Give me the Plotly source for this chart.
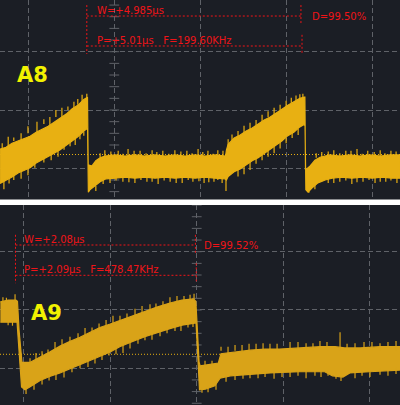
import plotly.graph_objects as go

# ---------------- data (time in µs, level in divisions) ----------------
# Channel A8 (2 µs/div) — peak-detect envelope
a8_up_t = [-2.66,-2.52,-2.38,-2.24,-2.10,-1.96,-1.82,-1.68,-1.54,-1.40,-1.26,-1.12,-0.98,-0.85,-0.71,-0.65,-0.624,
           -0.608,-0.52,-0.43,-0.33,-0.22,0.02,0.25,0.48,0.71,0.95,1.18,1.41,1.65,1.88,2.11,2.34,2.59,
           2.61,2.65,2.79,2.93,3.07,3.21,3.35,3.49,3.63,3.77,3.90,4.04,4.18,4.32,4.42,4.437,
           4.451,4.56,4.67,4.79,5.02,5.25,5.49,5.72,5.95,6.19,6.42,6.66]
a8_up_v = [-0.67,-0.64,-0.57,-0.53,-0.48,-0.45,-0.38,-0.33,-0.28,-0.21,-0.14,-0.07,0.02,0.08,0.18,0.21,0.22,
           -0.94,-0.96,-0.87,-0.82,-0.79,-0.77,-0.79,-0.77,-0.79,-0.77,-0.79,-0.77,-0.79,-0.77,-0.79,-0.77,-0.79,
           -0.69,-0.59,-0.48,-0.43,-0.36,-0.31,-0.24,-0.17,-0.12,-0.05,0.02,0.08,0.14,0.20,0.22,0.22,
           -1.03,-0.96,-0.86,-0.81,-0.77,-0.79,-0.77,-0.79,-0.77,-0.79,-0.77,-0.77]
a8_lo_t = [-2.66,-2.52,-2.38,-2.24,-2.10,-1.96,-1.82,-1.68,-1.54,-1.40,-1.26,-1.12,-0.98,-0.85,-0.71,-0.64,-0.622,
           -0.604,-0.57,-0.47,-0.33,-0.19,0.02,0.25,0.48,0.71,0.95,1.18,1.41,1.65,1.88,2.11,2.34,2.58,
           2.61,2.65,2.79,2.93,3.07,3.21,3.35,3.49,3.63,3.77,3.90,4.04,4.18,4.32,4.42,4.44,
           4.46,4.51,4.60,4.74,4.91,5.07,5.30,5.53,5.77,6.00,6.23,6.46,6.66]
a8_lo_v = [-1.26,-1.20,-1.15,-1.08,-1.04,-0.99,-0.91,-0.86,-0.80,-0.74,-0.68,-0.62,-0.53,-0.46,-0.36,-0.32,-0.33,
           -1.41,-1.37,-1.32,-1.23,-1.18,-1.17,-1.15,-1.17,-1.15,-1.17,-1.15,-1.17,-1.15,-1.17,-1.15,-1.17,-1.18,
           -1.20,-1.14,-1.06,-1.01,-0.94,-0.87,-0.82,-0.74,-0.67,-0.60,-0.53,-0.44,-0.38,-0.29,-0.25,-0.27,
           -1.37,-1.41,-1.34,-1.25,-1.20,-1.17,-1.15,-1.17,-1.15,-1.17,-1.15,-1.17,-1.17]
# noise spikes: time, start level, tip level
a8_spk_t = [-2.47,-2.17,-1.80,-1.50,-1.22,-0.94,-0.75,-0.64,
            -2.57,-2.34,-2.01,-1.64,-1.31,-1.03,-0.80,
            -0.22,0.09,0.32,0.60,0.88,1.13,1.41,1.69,1.95,2.18,2.41,
            -0.43,-0.10,0.20,0.48,0.76,1.02,1.30,1.58,1.83,2.09,2.32,2.51,
            2.65,2.60,
            2.88,3.16,3.44,3.72,4.00,4.23,4.39,
            3.02,3.30,3.58,3.86,4.14,
            4.83,5.11,5.39,5.65,5.90,6.19,6.44,
            4.53,4.98,5.25,5.53,5.79,6.07,6.32,6.58,
            -2.61,-2.34,-2.01,-1.64,-1.36,-1.08,-0.85,
            -2.45,-2.17,-1.85,-1.47,-1.17,-0.91,-0.71,
            -0.33,-0.08,0.20,0.46,0.74,0.99,1.27,1.55,1.81,2.06,2.30,2.53,
            -0.26,0.04,0.34,0.62,0.88,1.16,1.44,1.72,1.97,2.20,2.41,
            2.74,3.02,3.30,3.58,3.86,4.12,4.32,
            2.88,3.16,3.44,3.72,4.00,4.28,
            4.70,4.98,5.25,5.51,5.77,6.05,6.30,6.56,
            4.67,4.83,5.11,5.39,5.65,5.93,6.19,6.44]
a8_spk_from = [-0.64,-0.53,-0.40,-0.28,-0.14,0.00,0.12,0.20,
               -1.18,-1.08,-0.96,-0.79,-0.65,-0.51,-0.39,
               -0.82,-0.82,-0.82,-0.82,-0.82,-0.82,-0.82,-0.82,-0.82,-0.82,-0.82,
               -1.30,-1.13,-1.13,-1.13,-1.13,-1.13,-1.13,-1.13,-1.13,-1.13,-1.13,-1.13,
               -0.65,-1.17,
               -0.48,-0.34,-0.21,-0.09,0.05,0.16,0.20,
               -0.94,-0.80,-0.67,-0.53,-0.39,
               -0.82,-0.82,-0.82,-0.82,-0.82,-0.82,-0.82,
               -1.34,-1.13,-1.13,-1.13,-1.13,-1.13,-1.13,-1.13,
               -0.65,-0.53,-0.40,-0.24,-0.12,0.00,0.09,
               -1.16,-1.04,-0.89,-0.72,-0.58,-0.46,-0.37,
               -0.82,-0.82,-0.82,-0.82,-0.82,-0.82,-0.82,-0.82,-0.82,-0.82,-0.82,-0.82,
               -1.13,-1.13,-1.13,-1.13,-1.13,-1.13,-1.13,-1.13,-1.13,-1.13,-1.13,
               -0.52,-0.40,-0.26,-0.12,0.00,0.12,0.20,
               -1.03,-0.89,-0.75,-0.62,-0.48,-0.32,
               -0.82,-0.82,-0.82,-0.82,-0.82,-0.82,-0.82,-0.82,
               -1.27,-1.13,-1.13,-1.13,-1.13,-1.13,-1.13,-1.13]
a8_spk_to = [-0.46,-0.40,-0.20,-0.12,0.04,0.14,0.26,0.28,
             -1.36,-1.20,-1.12,-0.90,-0.80,-0.62,-0.50,
             -0.69,-0.70,-0.67,-0.70,-0.69,-0.70,-0.69,-0.70,-0.67,-0.70,-0.69,
             -1.39,-1.25,-1.23,-1.25,-1.23,-1.27,-1.23,-1.25,-1.23,-1.25,-1.23,-1.25,
             -0.50,-1.39,
             -0.36,-0.22,-0.08,0.04,0.16,0.25,0.28,
             -1.10,-0.92,-0.80,-0.66,-0.48,
             -0.72,-0.69,-0.70,-0.67,-0.70,-0.69,-0.70,
             -1.42,-1.25,-1.23,-1.27,-1.23,-1.25,-1.23,-1.25,
             -0.57,-0.47,-0.28,-0.16,0.00,0.06,0.19,
             -1.26,-1.18,-0.99,-0.86,-0.68,-0.60,-0.44,
             -0.74,-0.71,-0.75,-0.70,-0.74,-0.72,-0.75,-0.71,-0.74,-0.72,-0.75,-0.70,
             -1.27,-1.21,-1.24,-1.20,-1.23,-1.21,-1.25,-1.20,-1.22,-1.24,-1.20,
             -0.42,-0.27,-0.17,-0.02,0.09,0.21,0.27,
             -1.14,-1.03,-0.86,-0.74,-0.57,-0.43,
             -0.74,-0.71,-0.74,-0.70,-0.75,-0.72,-0.74,-0.71,
             -1.36,-1.22,-1.25,-1.21,-1.24,-1.20,-1.23,-1.21]

# Channel A9 (1 µs/div)
a9_up_t = [-2.27,-2.18,-2.09,-2.072,-2.054,-2.031,-2.02,-1.93,-1.81,-1.70,-1.58,-1.47,-1.35,-1.23,-1.12,-1.00,
           -0.89,-0.74,-0.60,-0.46,-0.31,-0.17,-0.04,-0.01,0.003,0.027,0.04,0.15,0.25,0.28,0.44,0.62,0.79,
           0.96,1.19,1.43,1.60,1.71,1.89,2.12,2.36]
a9_up_v = [0.14,0.17,0.17,0.15,-0.34,-0.82,-0.90,-0.90,-0.81,-0.72,-0.62,-0.54,-0.47,-0.38,-0.30,-0.24,
           -0.18,-0.09,-0.02,0.05,0.12,0.17,0.19,0.15,-0.21,-0.89,-0.96,-0.94,-0.91,-0.75,-0.72,-0.69,-0.67,
           -0.67,-0.65,-0.63,-0.63,-0.65,-0.65,-0.63,-0.63]
a9_lo_t = [-2.27,-2.09,-2.077,-2.048,-2.025,-1.985,-1.93,-1.81,-1.70,-1.58,-1.47,-1.35,-1.23,-1.12,-1.00,
           -0.89,-0.74,-0.60,-0.46,-0.31,-0.17,-0.04,-0.008,0.015,0.032,0.10,0.21,0.27,0.39,0.62,0.85,
           1.19,1.48,1.57,1.69,1.77,2.00,2.36]
a9_lo_v = [-0.21,-0.21,-0.21,-0.86,-1.32,-1.37,-1.32,-1.21,-1.14,-1.08,-1.01,-0.94,-0.87,-0.80,-0.72,
           -0.63,-0.54,-0.46,-0.39,-0.32,-0.26,-0.23,-0.22,-0.86,-1.37,-1.36,-1.30,-1.17,-1.13,-1.10,-1.08,
           -1.06,-1.06,-1.13,-1.15,-1.08,-1.06,-1.03]
a9_spk_t = [-2.24,-2.10,-2.18,
            -1.858,-1.719,-1.557,-1.372,-1.210,-1.048,-0.887,-0.713,-0.540,-0.390,-0.228,-0.077,-0.031,
            -1.973,-1.788,-1.627,-1.442,-1.257,-1.095,-0.933,-0.771,-0.598,-0.424,-0.251,-0.101,
            0.096,0.362,0.524,0.686,0.847,1.079,1.264,1.425,1.657,1.830,2.026,2.211,
            0.131,0.443,0.616,0.790,0.986,1.171,1.367,1.518,1.668,1.911,2.119,2.304,
            -2.20,-2.13,
            -1.927,-1.788,-1.638,-1.465,-1.291,-1.129,-0.968,-0.806,-0.632,-0.471,-0.309,-0.147,
            -1.881,-1.707,-1.534,-1.349,-1.176,-1.014,-0.852,-0.679,-0.517,-0.343,-0.182,-0.043,
            0.177,0.281,0.443,0.605,0.767,0.929,1.171,1.344,1.506,1.738,1.934,2.119,2.304,
            0.061,0.223,0.339,0.535,0.709,0.894,1.079,1.264,1.437,1.610,1.830,2.003,2.211]
a9_spk_from = [0.12,0.14,-0.17,
               -0.88,-0.78,-0.66,-0.54,-0.43,-0.33,-0.23,-0.14,-0.06,0.03,0.10,0.15,0.17,
               -1.32,-1.16,-1.06,-0.96,-0.84,-0.75,-0.63,-0.51,-0.42,-0.34,-0.25,-0.20,
               -0.99,-0.77,-0.75,-0.72,-0.70,-0.69,-0.69,-0.67,-0.69,-0.69,-0.69,-0.67,
               -1.30,-1.10,-1.06,-1.05,-1.03,-1.03,-1.03,-1.03,-1.06,-1.03,-1.01,-0.99,
               0.12,-0.17,
               -0.93,-0.79,-0.71,-0.57,-0.45,-0.35,-0.26,-0.18,-0.09,0.00,0.08,0.13,
               -1.23,-1.11,-1.02,-0.90,-0.78,-0.68,-0.58,-0.48,-0.39,-0.30,-0.24,-0.20,
               -0.98,-0.70,-0.70,-0.70,-0.70,-0.70,-0.70,-0.70,-0.70,-0.70,-0.70,-0.70,-0.70,
               -1.32,-1.27,-1.03,-1.03,-1.03,-1.03,-1.03,-1.03,-1.03,-1.03,-1.03,-1.03,-1.03]
a9_spk_to = [0.22,0.27,-0.26,
             -0.74,-0.68,-0.50,-0.40,-0.30,-0.17,-0.10,0.02,0.10,0.15,0.24,0.26,0.28,
             -1.44,-1.28,-1.20,-1.07,-0.98,-0.86,-0.76,-0.66,-0.52,-0.45,-0.36,-0.30,
             -0.87,-0.63,-0.60,-0.58,-0.58,-0.55,-0.57,-0.53,-0.38,-0.57,-0.55,-0.55,
             -1.41,-1.20,-1.17,-1.15,-1.15,-1.13,-1.13,-1.13,-1.22,-1.13,-1.11,-1.10,
             0.21,-0.27,
             -0.83,-0.71,-0.55,-0.46,-0.31,-0.23,-0.10,-0.06,0.07,0.11,0.22,0.24,
             -1.37,-1.21,-1.16,-1.00,-0.92,-0.78,-0.74,-0.58,-0.51,-0.40,-0.36,-0.29,
             -0.87,-0.63,-0.60,-0.58,-0.57,-0.58,-0.55,-0.57,-0.55,-0.58,-0.55,-0.57,-0.53,
             -1.42,-1.37,-1.23,-1.18,-1.17,-1.18,-1.15,-1.17,-1.15,-1.18,-1.17,-1.15,-1.13]

# measurements
a8_meas = dict(cursor=-0.64, W=4.985, P=5.01, F="199.60KHz", D="99.50%")
a9_meas = dict(cursor=-2.095, W=2.08, P=2.09, F="478.47KHz", D="99.52%")
a8_trigger = -0.763
a9_trigger = -0.76

for a, b in [(a8_up_t, a8_up_v), (a8_lo_t, a8_lo_v), (a8_spk_t, a8_spk_from), (a8_spk_t, a8_spk_to),
             (a9_up_t, a9_up_v), (a9_lo_t, a9_lo_v), (a9_spk_t, a9_spk_from), (a9_spk_t, a9_spk_to)]:
    assert len(a) == len(b), (len(a), len(b))

# ---------------- styling ----------------
BG = "#1b1e25"
GRID = "#5f6268"
RED = "#f01418"
YEL = "#f2f200"
C8 = "#e8b012"
C9 = "#d9a318"
TXT_FONT = "DejaVu Sans"

a8_xr = [-2.661, 6.651]
a8_yr = [-1.535, 1.887]
a9_xr = [-2.274, 2.350]
a9_yr = [-1.630, 1.801]

fig = go.Figure()


def add_channel(xa, ya, xr, yr, up_t, up_v, lo_t, lo_v, sp_t, sp_f, sp_to, color, trig):
    # trigger level (under the trace)
    fig.add_trace(go.Scatter(x=xr, y=[trig, trig], mode="lines", xaxis=xa, yaxis=ya,
                             line=dict(color="#e8b010", width=1, dash="1px,2px"), hoverinfo="skip"))
    # centre-axis sub-division ticks
    k0 = int(yr[0] / 0.2) - 1
    k1 = int(yr[1] / 0.2) + 1
    ticks = [k * 0.2 for k in range(k0, k1 + 1)]
    fig.add_trace(go.Scatter(x=[0] * len(ticks), y=ticks, mode="markers", xaxis=xa, yaxis=ya,
                             marker=dict(symbol="line-ew", size=7, line=dict(color=GRID, width=1)),
                             hoverinfo="skip"))
    # waveform band
    fig.add_trace(go.Scatter(x=up_t + lo_t[::-1], y=up_v + lo_v[::-1], mode="lines", fill="toself",
                             fillcolor=color, line=dict(color=color, width=1.2), xaxis=xa, yaxis=ya,
                             hoverinfo="skip"))
    sx, sy = [], []
    for t, f, e in zip(sp_t, sp_f, sp_to):
        sx += [t, t, None]
        sy += [f, e, None]
    fig.add_trace(go.Scatter(x=sx, y=sy, mode="lines", line=dict(color=color, width=1.2),
                             xaxis=xa, yaxis=ya, hoverinfo="skip"))


add_channel("x", "y", a8_xr, a8_yr, a8_up_t, a8_up_v, a8_lo_t, a8_lo_v,
            a8_spk_t, a8_spk_from, a8_spk_to, C8, a8_trigger)
add_channel("x2", "y2", a9_xr, a9_yr, a9_up_t, a9_up_v, a9_lo_t, a9_lo_v,
            a9_spk_t, a9_spk_from, a9_spk_to, C9, a9_trigger)


def add_cursors(xr_, yr_, m, y_w, y_p, y_top, y_mid1, y_mid2, y_bot, txt_dx, d_dx):
    t0 = m["cursor"]
    tw = t0 + m["W"]
    tp = t0 + m["P"]
    dot = dict(color=RED, width=1, dash="2px,2px")
    shapes = [
        dict(type="line", x0=t0, x1=t0, y0=y_top, y1=y_bot),
        dict(type="line", x0=tw, x1=tw, y0=y_top, y1=y_mid1),
        dict(type="line", x0=tp, x1=tp, y0=y_mid2, y1=y_bot),
        dict(type="line", x0=t0, x1=tw, y0=y_w, y1=y_w),
        dict(type="line", x0=t0, x1=tp, y0=y_p, y1=y_p),
    ]
    for s in shapes:
        s.update(xref=xr_, yref=yr_, line=dot, layer="above")
        fig.add_shape(**s)
    f = dict(family=TXT_FONT, size=10, color=RED)
    nb = "\u00a0\u00a0\u00a0"
    fig.add_annotation(x=t0 + txt_dx, y=(y_top + y_w) / 2, xref=xr_, yref=yr_, showarrow=False,
                       xanchor="left", yanchor="middle", text=f"W=+{m['W']:g}µs", font=f)
    fig.add_annotation(x=t0 + txt_dx, y=(y_mid2 + y_p) / 2, xref=xr_, yref=yr_, showarrow=False,
                       xanchor="left", yanchor="middle",
                       text=f"P=+{m['P']:g}µs{nb}F={m['F']}", font=f)
    fig.add_annotation(x=tp + d_dx, y=y_w, xref=xr_, yref=yr_, showarrow=False,
                       xanchor="left", yanchor="middle", text=f"D={m['D']}", font=f)


add_cursors("x", "y", a8_meas, 1.612, 1.098, 1.80, 1.46, 1.29, 0.96, 0.2, 0.18)
add_cursors("x2", "y2", a9_meas, 1.115, 0.595, 1.29, 0.97, 0.80, 0.46, 0.08, 0.07)

fig.add_annotation(x=-1.904, y=0.60, xref="x", yref="y", text="<b>A8</b>", showarrow=False,
                   font=dict(family="DejaVu Sans", size=21, color=YEL))
fig.add_annotation(x=-1.736, y=-0.046, xref="x2", yref="y2", text="<b>A9</b>", showarrow=False,
                   font=dict(family="DejaVu Sans", size=21, color=YEL))

ax_common = dict(showgrid=True, gridcolor=GRID, gridwidth=1, griddash="5px,3px", zeroline=False,
                 showline=False, ticks="", showticklabels=False, fixedrange=True)

fig.update_layout(
    width=400, height=405, margin=dict(l=0, r=0, t=0, b=0),
    paper_bgcolor="#ffffff", plot_bgcolor=BG, showlegend=False,
    xaxis=dict(domain=[0, 1], range=a8_xr, anchor="y", tickvals=[-2, 0, 2, 4, 6], **ax_common),
    yaxis=dict(domain=[0.5074, 1], range=a8_yr, anchor="x", tickvals=[-1, 0, 1], **ax_common),
    xaxis2=dict(domain=[0, 1], range=a9_xr, anchor="y2", tickvals=[-2, -1, 0, 1, 2], **ax_common),
    yaxis2=dict(domain=[0, 0.4938], range=a9_yr, anchor="x2", tickvals=[-1, 0, 1], **ax_common),
)

fig.write_html("out.html", config={"displayModeBar": False})
